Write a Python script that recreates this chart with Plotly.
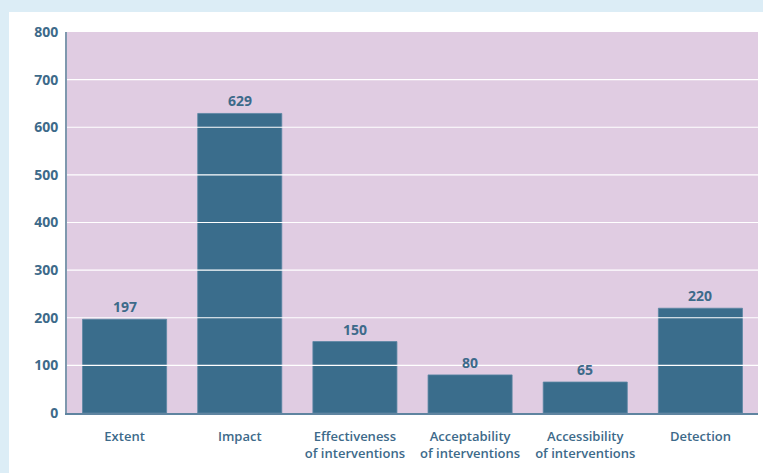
import plotly.graph_objects as go

categories = ["Extent", "Impact", "Effectiveness<br>of interventions",
              "Acceptability<br>of interventions", "Accessibility<br>of interventions", "Detection"]
values = [197, 629, 150, 80, 65, 220]
y_ticks = [0, 100, 200, 300, 400, 500, 600, 700, 800]

bar_color = "#3a6d8c"
text_color = "#3d6a8a"
plot_bg = "#e0cce2"
outer_bg = "#dcedf6"

fig = go.Figure(go.Bar(
    x=categories, y=values,
    marker=dict(color=bar_color, line=dict(width=0.8, color="#5b86a3")),
    cliponaxis=False, hoverinfo="x+y",
))

# value labels as annotations so they sit above the gridlines
annotations = [
    dict(x=c, y=v, text=str(v), showarrow=False, yanchor="bottom", yshift=1,
         font=dict(family="Open Sans", size=14, color=text_color, weight=700))
    for c, v in zip(categories, values)
]

shapes = []
# light blue frame around the white panel
shapes.append(dict(type="rect", xref="paper", yref="paper", x0=-67/691, x1=(9-67)/691,
                   y0=-60/381, y1=1+32/381, fillcolor=outer_bg, line=dict(width=0), layer="below"))
shapes.append(dict(type="rect", xref="paper", yref="paper", x0=-67/691, x1=1+5/691,
                   y0=1+20/381, y1=1+32/381, fillcolor=outer_bg, line=dict(width=0), layer="below"))
# white gridlines above bars
for t in y_ticks[1:-1]:
    shapes.append(dict(type="line", xref="paper", yref="y", x0=0, x1=1, y0=t, y1=t,
                       line=dict(color="white", width=1.2), layer="above"))

fig.update_layout(
    width=763, height=473,
    margin=dict(l=67, r=5, t=32, b=60),
    paper_bgcolor="white", plot_bgcolor=plot_bg,
    bargap=0.27, showlegend=False,
    shapes=shapes, annotations=annotations,
    font=dict(family="Open Sans", color=text_color),
    xaxis=dict(showgrid=False, showline=True, linecolor="#5f84a0", linewidth=1.5,
               tickfont=dict(family="Open Sans", size=13, color=text_color, weight=600),
               ticks="", ticklabelstandoff=11, fixedrange=True),
    yaxis=dict(range=[0, 800], tickvals=y_ticks, showgrid=False, zeroline=False,
               showline=True, linecolor="#7f98ae", linewidth=2,
               tickfont=dict(family="Open Sans", size=14, color=text_color, weight=700),
               ticks="", ticklabelstandoff=4, fixedrange=True),
)

fig.write_html("out.html", config={"displayModeBar": False},
               post_script="document.body.style.margin='0';document.body.style.overflow='hidden';")
